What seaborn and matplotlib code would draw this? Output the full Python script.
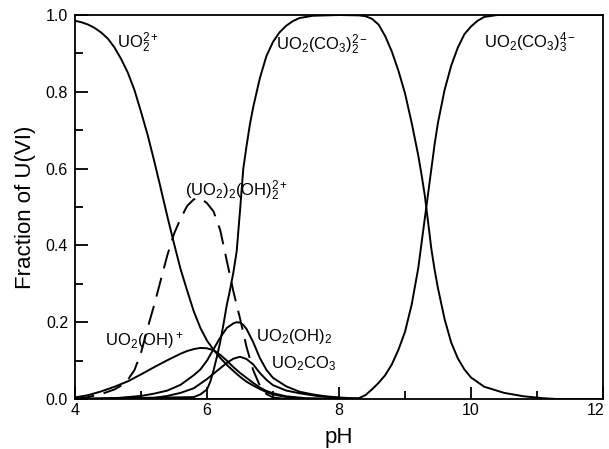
import numpy as np
import pandas as pd
import matplotlib
matplotlib.use("Agg")
import matplotlib.pyplot as plt
from matplotlib.transforms import ScaledTranslation
import seaborn as sns

# ---- data ----
ph_uo2 = [4.0, 4.1, 4.2, 4.3, 4.4, 4.5, 4.6, 4.7, 4.8, 4.9, 5.0, 5.1, 5.2, 5.3, 5.4,
          5.5, 5.6, 5.7, 5.8, 5.9, 6.0, 6.1, 6.2, 6.3, 6.4, 6.5, 6.6, 6.7, 6.8, 6.9,
          7.0, 7.2, 7.5, 8.0]
fr_uo2 = [0.985, 0.981, 0.975, 0.966, 0.954, 0.938, 0.915, 0.885, 0.85, 0.805, 0.748,
          0.688, 0.62, 0.548, 0.475, 0.405, 0.338, 0.282, 0.228, 0.185, 0.152, 0.128,
          0.107, 0.089, 0.073, 0.058, 0.045, 0.035, 0.026, 0.018, 0.012, 0.005, 0.001,
          0.0]

ph_dimer = [4.0, 4.2, 4.4, 4.6, 4.7, 4.8, 4.9, 5.0, 5.1, 5.2, 5.3, 5.4, 5.5, 5.6, 5.7,
            5.8, 5.9, 6.0, 6.1, 6.2, 6.3, 6.4, 6.5, 6.6, 6.7, 6.8, 6.9, 7.0, 7.2]
fr_dimer = [0.0, 0.005, 0.013, 0.025, 0.035, 0.05, 0.075, 0.12, 0.185, 0.245, 0.31,
            0.375, 0.43, 0.47, 0.503, 0.52, 0.523, 0.51, 0.488, 0.44, 0.36, 0.28,
            0.21, 0.135, 0.075, 0.035, 0.013, 0.004, 0.0]

ph_oh = [4.0, 4.2, 4.4, 4.6, 4.8, 5.0, 5.2, 5.4, 5.6, 5.7, 5.8, 5.9, 6.0, 6.1, 6.2,
         6.3, 6.4, 6.5, 6.6, 6.7, 6.8, 6.9, 7.0, 7.2, 7.5, 8.0]
fr_oh = [0.004, 0.01, 0.02, 0.032, 0.046, 0.064, 0.083, 0.101, 0.118, 0.125, 0.13,
         0.133, 0.132, 0.127, 0.115, 0.1, 0.083, 0.068, 0.055, 0.042, 0.03, 0.021,
         0.015, 0.007, 0.002, 0.0]

ph_oh2 = [4.0, 4.6, 5.0, 5.2, 5.4, 5.6, 5.8, 5.9, 6.0, 6.1, 6.2, 6.3, 6.4, 6.45, 6.5,
          6.55, 6.6, 6.7, 6.8, 6.9, 7.0, 7.2, 7.4, 7.6, 7.8, 8.0, 8.3]
fr_oh2 = [0.0, 0.002, 0.008, 0.014, 0.022, 0.037, 0.062, 0.077, 0.1, 0.13, 0.16,
          0.185, 0.197, 0.2, 0.199, 0.193, 0.182, 0.148, 0.107, 0.076, 0.055, 0.033,
          0.019, 0.012, 0.007, 0.004, 0.001]

ph_co3 = [4.0, 5.2, 5.4, 5.6, 5.8, 6.0, 6.1, 6.2, 6.3, 6.4, 6.5, 6.6, 6.7, 6.8, 6.9,
          7.0, 7.2, 7.4, 7.7, 8.0, 8.3]
fr_co3 = [0.0, 0.003, 0.008, 0.016, 0.028, 0.052, 0.066, 0.08, 0.094, 0.105, 0.11,
          0.104, 0.09, 0.068, 0.05, 0.036, 0.022, 0.015, 0.007, 0.003, 0.0]

ph_co3_2 = [4.0, 5.8, 5.9, 6.0, 6.05, 6.1, 6.15, 6.2, 6.25, 6.3, 6.35, 6.4, 6.45, 6.5,
            6.55, 6.6, 6.65, 6.7, 6.8, 6.9, 7.0, 7.1, 7.2, 7.3, 7.4, 7.6, 8.0, 8.3,
            8.4, 8.5, 8.6, 8.7, 8.8, 8.9, 9.0, 9.1, 9.2, 9.25, 9.3, 9.35, 9.4, 9.45,
            9.5, 9.6, 9.7, 9.8, 9.9, 10.0, 10.2, 10.5, 10.8, 11.1, 11.3, 12.0]
fr_co3_2 = [0.0, 0.005, 0.012, 0.025, 0.045, 0.075, 0.11, 0.148, 0.195, 0.245, 0.285,
            0.33, 0.385, 0.49, 0.6, 0.66, 0.715, 0.76, 0.835, 0.893, 0.93, 0.955,
            0.972, 0.984, 0.992, 0.998, 1.0, 0.999, 0.997, 0.99, 0.975, 0.945, 0.905,
            0.855, 0.796, 0.72, 0.635, 0.585, 0.53, 0.46, 0.39, 0.335, 0.288, 0.208,
            0.147, 0.106, 0.077, 0.056, 0.032, 0.016, 0.007, 0.002, 0.0, 0.0]

ph_co3_3 = [4.0, 8.0, 8.3, 8.4, 8.5, 8.6, 8.7, 8.8, 8.9, 9.0, 9.1, 9.2, 9.25, 9.3,
            9.35, 9.4, 9.45, 9.5, 9.6, 9.7, 9.8, 9.9, 10.0, 10.1, 10.2, 10.4, 12.0]
fr_co3_3 = [0.0, 0.0, 0.002, 0.01, 0.025, 0.042, 0.062, 0.09, 0.128, 0.175, 0.245,
            0.34, 0.405, 0.47, 0.535, 0.6, 0.665, 0.72, 0.805, 0.868, 0.915, 0.95,
            0.97, 0.985, 0.995, 1.0, 1.0]

species = ["UO2", "dimer", "OH", "OH2", "CO3", "CO3_2", "CO3_3"]
series = {
    "UO2": (ph_uo2, fr_uo2),
    "dimer": (ph_dimer, fr_dimer),
    "OH": (ph_oh, fr_oh),
    "OH2": (ph_oh2, fr_oh2),
    "CO3": (ph_co3, fr_co3),
    "CO3_2": (ph_co3_2, fr_co3_2),
    "CO3_3": (ph_co3_3, fr_co3_3),
}

labels = [r"$\mathrm{UO_2^{2+}}$",
          r"$\mathrm{(UO_2)_2(OH)_2^{2+}}$",
          r"$\mathrm{UO_2(OH)^+}$",
          r"$\mathrm{UO_2(OH)_2}$",
          r"$\mathrm{UO_2CO_3}$",
          r"$\mathrm{UO_2(CO_3)_2^{2-}}$",
          r"$\mathrm{UO_2(CO_3)_3^{4-}}$"]
label_x = [4.63, 5.66, 4.45, 6.75, 6.97, 7.05, 10.19]
label_y = [0.915, 0.53, 0.14, 0.152, 0.08, 0.91, 0.915]

rows = []
for sp in species:
    xs, ys = series[sp]
    for x, y in zip(xs, ys):
        rows.append({"pH": x, "frac": y, "species": sp})
df = pd.DataFrame(rows)

# ---- style ----
sns.set_theme(style="white")
plt.rcParams["font.family"] = ["Liberation Sans", "DejaVu Sans"]
plt.rcParams["mathtext.fontset"] = "custom"
plt.rcParams["mathtext.rm"] = "Liberation Sans"
plt.rcParams["mathtext.it"] = "Liberation Sans:italic"
plt.rcParams["mathtext.bf"] = "Liberation Sans:bold"
plt.rcParams["text.color"] = "black"
plt.rcParams["axes.labelcolor"] = "black"
plt.rcParams["xtick.color"] = "black"
plt.rcParams["ytick.color"] = "black"

fig = plt.figure(figsize=(6.09, 4.49), dpi=100)
ax = fig.add_axes([75/609, 1 - 399/449, (603 - 75)/609, (399 - 15)/449])

palette = {sp: "black" for sp in species}
dashes = {sp: "" for sp in species}
dashes["dimer"] = (10, 5)
sns.lineplot(data=df, x="pH", y="frac", hue="species", style="species",
             palette=palette, dashes=dashes, estimator=None, sort=True,
             linewidth=1.4, legend=False, ax=ax)

for t, x, y in zip(labels, label_x, label_y):
    ax.text(x, y, t, fontsize=12, ha="left", va="baseline", color="black")

ax.set_xlim(4, 12)
ax.set_ylim(0, 1)
ax.set_xticks([4, 6, 8, 10, 12])
ax.set_xticks([5, 7, 9, 11], minor=True)
ax.set_yticks([0.0, 0.2, 0.4, 0.6, 0.8, 1.0])
ax.set_yticks([0.1, 0.3, 0.5, 0.7, 0.9], minor=True)
ax.set_yticklabels(["0.0", "0.2", "0.4", "0.6", "0.8", "1.0"])
ax.tick_params(which="major", direction="in", length=9, width=1.3,
               labelsize=11.5, colors="black")
ax.tick_params(which="minor", direction="in", length=6, width=1.3, colors="black")
ax.tick_params(axis="x", which="both", pad=3, bottom=True, top=False)
ax.tick_params(axis="y", which="both", pad=5, left=True, right=False)
for s in ax.spines.values():
    s.set_visible(True)
    s.set_color("black")
    s.set_linewidth(1.3)

ax.set_xlabel("pH", fontsize=16, labelpad=6, color="black")
ax.set_ylabel("Fraction of U(VI)", fontsize=16, labelpad=7, color="black")

# keep the last x tick label inside the figure
last = ax.get_xticklabels()[-1]
last.set_transform(last.get_transform() + ScaledTranslation(-5/72, 0, fig.dpi_scale_trans))

fig.savefig("out.png", dpi=100)
